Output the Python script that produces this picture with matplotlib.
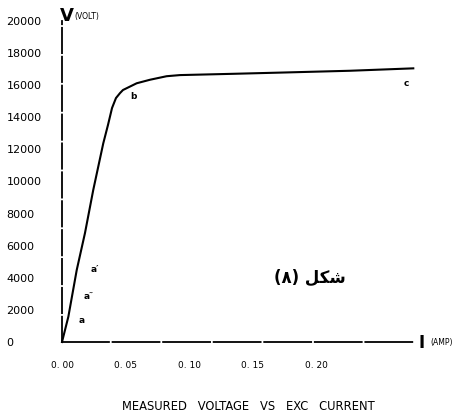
import matplotlib.pyplot as plt

# measured excitation current (A) and terminal voltage (V)
current = [0.0, 0.0050, 0.0116, 0.0181, 0.0246, 0.0325, 0.0362, 0.0394,
           0.0425, 0.0457, 0.0480, 0.0588, 0.0693, 0.0824, 0.0929, 0.1349,
           0.1743, 0.2268, 0.2766]
voltage = [0, 1576, 4486, 6791, 9470, 12380, 13520, 14580,
           15200, 15510, 15700, 16120, 16340, 16560, 16630, 16710,
           16790, 16900, 17050]

# point labels on the curve
point_names = ["a", "a\u2033", "a\u2032", "b", "c"]
point_i = [0.0155, 0.0208, 0.0260, 0.0561, 0.2709]
point_v = [1370, 2830, 4486, 15280, 16120]

x_ticks = [0.0, 0.05, 0.10, 0.15, 0.20]
x_tick_labels = ["0. 00", "0. 05", "0. 10", "0. 15", "0. 20"]
y_ticks = [0, 2000, 4000, 6000, 8000, 10000, 12000, 14000, 16000, 18000, 20000]
y_tick_labels = [str(v) for v in y_ticks]

W, H = 463, 416
fig = plt.figure(figsize=(W / 100, H / 100), dpi=100)
x0, y0, x1, y1 = 62, 342, 415, 21
ax = fig.add_axes([x0 / W, (H - y0) / H, (x1 - x0) / W, (y0 - y1) / H])
ax.set_xlim(0, (x1 - x0) / 1270)
ax.set_ylim(0, 20000)

for s in ["top", "right"]:
    ax.spines[s].set_visible(False)
ax.spines["left"].set_linewidth(1.3)
ax.spines["bottom"].set_linewidth(1.3)
ax.spines["left"].set_linestyle((0, (14, 2)))
ax.spines["bottom"].set_linestyle((0, (26, 2)))

ax.plot(current, voltage, color="black", lw=1.5, clip_on=False)

for name, i, v in zip(point_names, point_i, point_v):
    ax.text(i, v, name, fontsize=6.5, fontweight="bold", ha="center", va="center")

ax.set_xticks(x_ticks)
ax.set_xticklabels(x_tick_labels, fontsize=6.5)
ax.set_yticks(y_ticks)
ax.set_yticklabels(y_tick_labels, fontsize=8, ha="left")
ax.tick_params(axis="x", length=0, pad=14)
ax.tick_params(axis="y", length=0, pad=40)

# axis names
fig.text(60 / W, 1 - 16 / H, "V", fontsize=13, fontweight="bold", va="center")
fig.text(74 / W, 1 - 16 / H, "(VOLT)", fontsize=5.5, va="center")
fig.text(419 / W, 1 - 343 / H, "I", fontsize=12, fontweight="bold", va="center")
fig.text(430 / W, 1 - 342 / H, "(AMP)", fontsize=5.5, va="center")

# figure caption (Arabic presentation forms, laid out left to right)
ax.text(0.1953, 3990, "(\u0668) \uFEDE\uFEDC\uFEB7", fontsize=12,
        fontweight="bold", family=["DejaVu Sans"], ha="center", va="center")

fig.text(248 / W, 1 - 406 / H, "MEASURED   VOLTAGE   VS   EXC   CURRENT",
         fontsize=8.3, ha="center", va="center")

fig.savefig("out.png", dpi=100)
